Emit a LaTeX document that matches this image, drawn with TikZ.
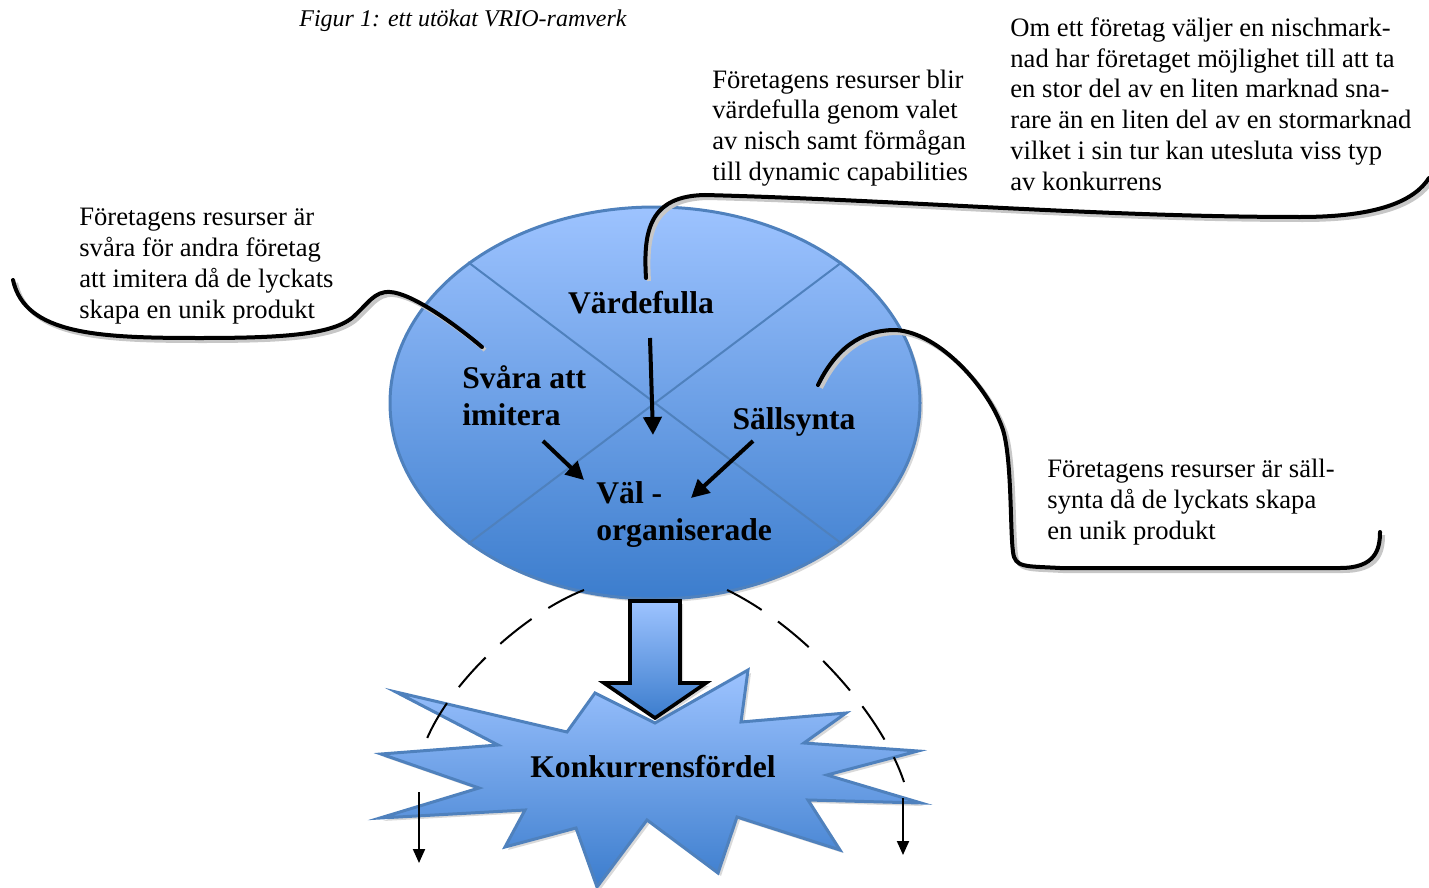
\documentclass[tikz,border=0pt]{standalone}
\usepackage{fontspec}
\setmainfont{Liberation Serif}
\usetikzlibrary{arrows.meta, shapes.geometric, shadows, calc, positioning}
\definecolor{ljusbla}{RGB}{157,195,255}
\definecolor{morkbla}{RGB}{60,125,205}
\definecolor{kantbla}{RGB}{79,129,189}

\tikzset{
  bubbeltext/.style={align=left, inner sep=0pt, font=\fontsize{13.3}{15.4}\selectfont},
  etikett/.style={align=left, inner sep=0pt, font=\fontsize{15.8}{18.5}\selectfont\bfseries},
  pratlinje/.style={line width=2pt, line cap=round,
    preaction={draw=black!22, line width=2pt, transform canvas={xshift=1.5pt, yshift=-1.5pt}}},
  pil/.style={line width=2pt, -{Triangle[length=9pt,width=9pt]}},
  tunnpil/.style={line width=1pt, -{Triangle[length=7pt,width=6pt]}},
  streckad/.style={line width=1pt, dash pattern=on 20pt off 10pt},
  blafyllning/.style={top color=ljusbla, bottom color=morkbla},
  skugga/.style={drop shadow={shadow xshift=1.5pt, shadow yshift=-1.5pt, opacity=0.3}},
}

\begin{document}
\begin{tikzpicture}[x=0.5pt, y=-0.5pt]
        \useasboundingbox (0,0) rectangle (1429,888);

        % Rubrik
        \node[font=\fontsize{12}{14}\selectfont\itshape] (figur) at (463,21) {Figur 1: ett utökat VRIO-ramverk};

        % Stjärnan med konkurrensfördel
        \draw[blafyllning, draw=kantbla, line width=1.5pt, skugga]
          (396,692) -- (567,732) -- (595,693) -- (655,723) -- (748,670) -- (741,722)
          -- (846,713) -- (804,743) -- (918,751) -- (827,775) -- (921,803) -- (808,800)
          -- (840,850) -- (737,817) -- (718,873) -- (647,820) -- (597,887) -- (576,828)
          -- (505,847) -- (525,810) -- (380,818) -- (479,788) -- (381,754) -- (498,745) -- cycle;
        \node[etikett] (konk) at (653,767) {Konkurrensfördel};

        % Ellipsen (VRIO)
        \node[ellipse, draw=kantbla, line width=1.5pt, blafyllning, skugga,
              minimum width=265pt, minimum height=196pt, inner sep=0pt] (vrio) at (655,403) {};
        \draw[kantbla, line width=1pt] (vrio.143) -- (vrio.-37); % diagonal 1
        \draw[kantbla, line width=1pt] (vrio.37) -- (vrio.217); % diagonal 2

        % Etiketter i ellipsen
        \node[etikett] (vard) at (641,303) {Värdefulla};
        \node[etikett, anchor=west] (svara) at (462,396) {Svåra att\\imitera};
        \node[etikett] (sall) at (794,422) {Sällsynta};
        \node[etikett, anchor=west] (val) at (596,515) {Väl -\\organiserade};

        % Pilar mot väl-organiserade
        \coordinate (vardstart) at (650,338);
        \coordinate (vardslut) at (653,435);
        \coordinate (svarastart) at (543,441);
        \coordinate (svaraslut) at (584,480);
        \coordinate (sallstart) at (753,441);
        \coordinate (sallslut) at (691,498);
        \draw[pil] (vardstart) -- (vardslut);
        \draw[pil] (svarastart) -- (svaraslut);
        \draw[pil] (sallstart) -- (sallslut);

        % Blockpil ner till stjärnan
        \draw[blafyllning, draw=black, line width=1.8pt, line join=miter, skugga]
          (630,601) -- (680,601) -- (680,683) -- (706,683) -- (655,718) -- (604,683) -- (630,683) -- cycle;

        % Streckade linjer och pilar
        \draw[streckad] (584,590) .. controls (520,615) and (440,690) .. (421,755);
        \draw[streckad] (727,590) .. controls (800,625) and (880,710) .. (904,782);
        \coordinate (vpilstart) at (419,792);
        \coordinate (vpilslut) at (419,863);
        \coordinate (hpilstart) at (903,798);
        \coordinate (hpilslut) at (903,855);
        \draw[tunnpil] (vpilstart) -- (vpilslut);
        \draw[tunnpil] (hpilstart) -- (hpilslut);

        % Pratbubblor
        \draw[pratlinje] (13,280) .. controls (25,335) and (100,338) .. (200,338)
          .. controls (280,338) and (330,335) .. (352,318)
          .. controls (368,304) and (374,291) .. (390,292)
          .. controls (410,293) and (450,320) .. (482,347);
        \draw[pratlinje] (646,278) .. controls (643,230) and (650,196) .. (705,195)
          .. controls (900,200) and (1100,217) .. (1300,217)
          .. controls (1380,217) and (1415,200) .. (1429,178);
        \draw[pratlinje] (818,385) .. controls (835,350) and (860,330) .. (895,330)
          .. controls (940,332) and (990,390) .. (1003,430)
          .. controls (1012,460) and (1010,530) .. (1013,552)
          .. controls (1015,568) and (1025,566) .. (1060,568) -- (1340,568)
          .. controls (1375,568) and (1380,550) .. (1380,532);

        % Texter i pratbubblorna
        \node[bubbeltext, anchor=west] (imitera) at (79,266) {Företagens resurser är\\svåra för andra företag\\att imitera då de lyckats\\skapa en unik produkt};
        \node[bubbeltext, anchor=west] (vardtext) at (712,128) {Företagens resurser blir\\värdefulla genom valet\\av nisch samt förmågan\\till dynamic capabilities};
        \node[bubbeltext, anchor=west] (nisch) at (1010,104) {Om ett företag väljer en nischmark-\\nad har företaget möjlighet till att ta\\en stor del av en liten marknad sna-\\rare än en liten del av en stormarknad\\vilket i sin tur kan utesluta viss typ\\av konkurrens};
        \node[bubbeltext, anchor=west] (salltext) at (1047,502) {Företagens resurser är säll-\\synta då de lyckats skapa\\en unik produkt};

\end{tikzpicture}
\end{document}
